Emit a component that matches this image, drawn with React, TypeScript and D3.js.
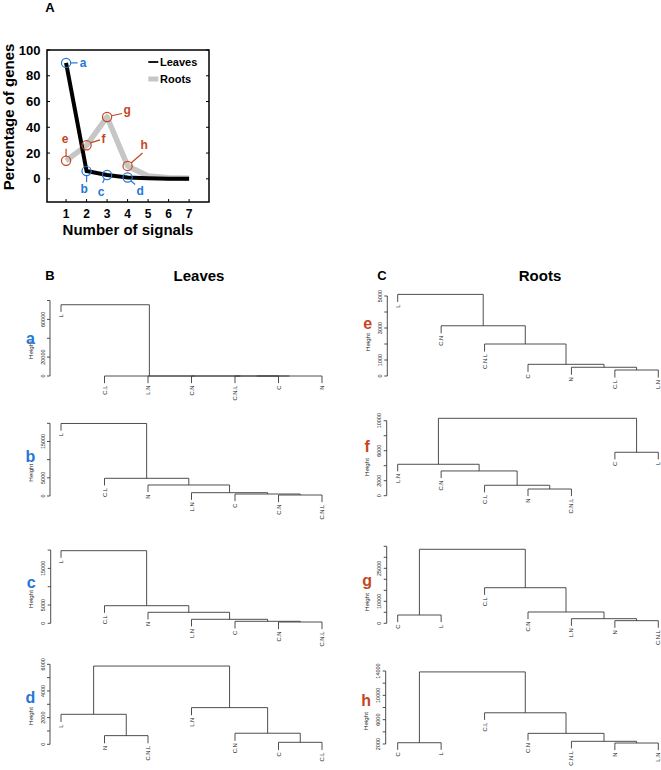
import React from 'react';
import * as d3 from 'd3';

// ---------- Panel A data ----------
const signals = [1, 2, 3, 4, 5, 6, 7];
const leavesPct = [90, 6, 3, 1, 0.4, 0.1, 0];
const rootsPct = [14, 26, 48, 10, 2.2, 0.9, 0.4];
const yTicksA = [0, 20, 40, 60, 80, 100];
const annotLetters = ['a', 'b', 'c', 'd', 'e', 'f', 'g', 'h'];

// ---------- Dendrogram data (leaf order + merges [childA, childB, height]) ----------
type Child = string | number;
type Merge = [Child, Child, number];

const orderA = ['L', 'C.L', 'L.N', 'C.N', 'C.N.L', 'C', 'N'];
const mergesA: Merge[] = [['C.N.L', 'C', 0], [0, 'N', 0], ['C.N', 1, 0], ['L.N', 2, 0], ['C.L', 3, 0], ['L', 4, 75500]];
const ticksA = [0, 20000, 40000, 60000, 80000];
const tickLabA = [0, 20000, 60000];

const orderB = ['L', 'C.L', 'N', 'L.N', 'C', 'C.N', 'C.N.L'];
const mergesB: Merge[] = [['C.N', 'C.N.L', 275], ['C', 0, 550], ['L.N', 1, 910], ['N', 2, 3030], ['C.L', 3, 4870], ['L', 4, 19950]];
const ticksB = [0, 5000, 10000, 15000, 20000];
const tickLabB = [0, 5000, 15000];

const orderC = ['L', 'C.L', 'N', 'L.N', 'C', 'C.N', 'C.N.L'];
const mergesC: Merge[] = [['C.N', 'C.N.L', 355], ['C', 0, 546], ['L.N', 1, 1090], ['N', 2, 3005], ['C.L', 3, 4810], ['L', 4, 19840]];
const ticksC = [0, 5000, 10000, 15000, 20000];
const tickLabC = [0, 5000, 15000];

const orderD = ['L', 'N', 'C.N.L', 'L.N', 'C.N', 'C', 'C.L'];
const mergesD: Merge[] = [['N', 'C.N.L', 650], ['L', 0, 2250], ['C', 'C.L', 150], ['C.N', 2, 830], ['L.N', 3, 2750], [1, 4, 5870]];
const ticksD = [0, 1000, 2000, 3000, 4000, 5000, 6000];
const tickLabD = [0, 2000, 4000, 6000];

const orderE = ['L', 'C.N', 'C.N.L', 'C', 'N', 'C.L', 'L.N'];
const mergesE: Merge[] = [['C.L', 'L.N', 375], ['N', 0, 545], ['C', 1, 730], ['C.N.L', 2, 2000], ['C.N', 3, 3140], ['L', 4, 5100]];
const ticksE = [0, 1000, 2000, 3000, 4000, 5000];
const tickLabE = [0, 1000, 3000, 5000];

const orderF = ['L.N', 'C.N', 'C.L', 'N', 'C.N.L', 'C', 'L'];
const mergesF: Merge[] = [['N', 'C.N.L', 890], ['C.L', 0, 1390], ['C.N', 1, 3300], ['L.N', 2, 4190], ['C', 'L', 5790], [3, 4, 10320]];
const ticksF = [0, 2000, 4000, 6000, 8000, 10000];
const tickLabF = [0, 2000, 6000, 10000];

const orderG = ['C', 'L', 'C.L', 'C.N', 'L.N', 'N', 'C.N.L'];
const mergesG: Merge[] = [['N', 'C.N.L', 1200], ['L.N', 0, 2100], ['C.N', 1, 5140], ['C.L', 2, 16180], ['C', 'L', 3770], [4, 3, 33640]];
const ticksG = [0, 5000, 10000, 15000, 20000, 25000, 30000, 35000];
const tickLabG = [0, 10000, 25000];

const orderH = ['C', 'L', 'C.L', 'C.N', 'C.N.L', 'N', 'L.N'];
const mergesH: Merge[] = [['N', 'L.N', 2160], ['C.N.L', 0, 2440], ['C.N', 1, 3750], ['C.L', 2, 7130], ['C', 'L', 2210], [4, 3, 13850]];
const ticksH = [2000, 4000, 6000, 8000, 10000, 12000, 14000];
const tickLabH = [2000, 6000, 10000, 14000];

const BLUE = '#2477d6';
const RED = '#c4461f';
const FONT = '"Liberation Sans", Arial, Helvetica, sans-serif';

// layout (positions only)
const colX = [[61, 322], [397.7, 658.3]];
const dendros = [
  { letter: 'a', color: BLUE, order: orderA, merges: mergesA, ticks: ticksA, labs: tickLabA, col: 0, axisX: 50, dom: [0, 80000], rng: [376, 300.5], hY: 350, lY: 338 },
  { letter: 'b', color: BLUE, order: orderB, merges: mergesB, ticks: ticksB, labs: tickLabB, col: 0, axisX: 50, dom: [0, 20000], rng: [496, 423.3], hY: 472.7, lY: 456 },
  { letter: 'c', color: BLUE, order: orderC, merges: mergesC, ticks: ticksC, labs: tickLabC, col: 0, axisX: 50.7, dom: [0, 20000], rng: [623.3, 550.1], hY: 599, lY: 582 },
  { letter: 'd', color: BLUE, order: orderD, merges: mergesD, ticks: ticksD, labs: tickLabD, col: 0, axisX: 50, dom: [0, 6000], rng: [744.3, 664.3], hY: 716, lY: 697 },
  { letter: 'e', color: RED, order: orderE, merges: mergesE, ticks: ticksE, labs: tickLabE, col: 1, axisX: 387.3, dom: [0, 5000], rng: [376, 296], hY: 342, lY: 323 },
  { letter: 'f', color: RED, order: orderF, merges: mergesF, ticks: ticksF, labs: tickLabF, col: 1, axisX: 386.7, dom: [0, 10000], rng: [495.7, 420.7], hY: 467, lY: 446 },
  { letter: 'g', color: RED, order: orderG, merges: mergesG, ticks: ticksG, labs: tickLabG, col: 1, axisX: 386.7, dom: [0, 35000], rng: [623.3, 546.3], hY: 602, lY: 580 },
  { letter: 'h', color: RED, order: orderH, merges: mergesH, ticks: ticksH, labs: tickLabH, col: 1, axisX: 385.7, dom: [2000, 14000], rng: [744, 671], hY: 721, lY: 700 },
];

function Dendro({ cfg }: { cfg: any }) {
  const { order, merges, ticks, labs, col, axisX, dom, rng, hY, lY, letter, color } = cfg;
  const x = d3.scalePoint<string>().domain(order).range(colX[col] as [number, number]);
  const y = d3.scaleLinear().domain(dom).range(rng);
  const heights = (merges as Merge[]).map((m) => m[2]);
  const hang = 0.1 * ((d3.max(heights) as number) - (d3.min(heights) as number));
  const nodeX: number[] = [];
  const segs: number[][] = [];
  const leafLabels: { name: string; x: number; y: number }[] = [];
  (merges as Merge[]).forEach(([a, b, h], i) => {
    const pos = (c: Child) => {
      if (typeof c === 'string') {
        const lx = x(c) as number;
        leafLabels.push({ name: c, x: lx, y: y(h - hang) });
        return { x: lx, y: h - hang };
      }
      return { x: nodeX[c], y: heights[c] };
    };
    const A = pos(a);
    const B = pos(b);
    nodeX[i] = (A.x + B.x) / 2;
    segs.push([A.x, y(A.y), A.x, y(h)], [A.x, y(h), B.x, y(h)], [B.x, y(h), B.x, y(B.y)]);
  });
  const hx = axisX - 20;
  return (
    <g fontFamily={FONT}>
      {segs.map((s, i) => (
        <line key={i} x1={s[0]} y1={s[1]} x2={s[2]} y2={s[3]} stroke="#3a3a3a" strokeWidth={0.9} />
      ))}
      {leafLabels.map((l) => (
        <text key={l.name} transform={`translate(${l.x},${l.y + 2.5}) rotate(-90)`} textAnchor="end" dominantBaseline="central" fontSize={5.8} fill="#222">
          {l.name}
        </text>
      ))}
      <line x1={axisX} x2={axisX} y1={y(ticks[0])} y2={y(ticks[ticks.length - 1])} stroke="#3a3a3a" strokeWidth={0.9} />
      {ticks.map((t: number) => (
        <line key={t} x1={axisX - 3} x2={axisX} y1={y(t)} y2={y(t)} stroke="#3a3a3a" strokeWidth={0.9} />
      ))}
      {labs.map((t: number) => (
        <text key={t} transform={`translate(${axisX - 5.5},${y(t)}) rotate(-90)`} textAnchor="middle" fontSize={5.5} fill="#222">
          {t}
        </text>
      ))}
      <text transform={`translate(${hx + 2.5},${hY}) rotate(-90)`} textAnchor="middle" fontSize={6.2} fill="#222">
        Height
      </text>
      <text x={hx + 0.5} y={lY} textAnchor="middle" dominantBaseline="central" fontSize={16} fontWeight="bold" fill={color}>
        {letter}
      </text>
    </g>
  );
}

// annotation geometry (pixel offsets from point): [series, index, x1,y1,x2,y2, lx, ly]
const annots: [number, number, number, number, number, number, number, number][] = [
  [0, 0, 4.5, 0, 11.5, 0, 17, 0],
  [0, 1, 0, 4.5, 0, 11, -2.5, 18],
  [0, 2, -2.5, 3.5, -4.5, 8, -6, 17],
  [0, 3, 3.2, 3.2, 7.5, 7, 12.5, 13.5],
  [1, 0, 0, -4.5, 0, -12, -1, -22],
  [1, 1, 3.8, -2.5, 13.5, -5.5, 17, -6.5],
  [1, 2, 4.4, -1.2, 15, -3.5, 20, -6.5],
  [1, 3, 3.5, -3, 15, -13, 16.5, -20.5],
];

export default function App() {
  const xA = d3.scaleLinear().domain([0.07, 7.97]).range([47, 209]);
  const yA = d3.scaleLinear().domain([-18, 100]).range([202, 50]);
  const lineGen = d3
    .line<number>()
    .x((_, i) => xA(signals[i]))
    .y((d) => yA(d));
  const series = [leavesPct, rootsPct];
  return (
    <svg width={661} height={770} style={{ position: 'absolute', left: 0, top: 0, background: '#fff' }} fontFamily={FONT}>
      <rect width={661} height={770} fill="#fff" />
      {/* Panel A */}
      <text x={50} y={12} fontSize={13} fontWeight="bold" textAnchor="middle">A</text>
      <path d={lineGen(rootsPct) || ''} fill="none" stroke="#c6c6c6" strokeWidth={5.5} strokeLinejoin="round" />
      <path d={lineGen(leavesPct) || ''} fill="none" stroke="#000" strokeWidth={4} strokeLinejoin="miter" />
      <rect x={47} y={50} width={162} height={152} fill="none" stroke="#000" strokeWidth={1.5} />
      {yTicksA.map((t) => (
        <g key={t}>
          <line x1={47} x2={50} y1={yA(t)} y2={yA(t)} stroke="#000" strokeWidth={1} />
          <line x1={206} x2={209} y1={yA(t)} y2={yA(t)} stroke="#000" strokeWidth={1} />
          <text x={40.5} y={yA(t)} textAnchor="end" dominantBaseline="central" fontSize={13} fontWeight="bold">{t}</text>
        </g>
      ))}
      {signals.map((s) => (
        <g key={s}>
          <line x1={xA(s)} x2={xA(s)} y1={202} y2={199} stroke="#000" strokeWidth={1} />
          <text x={xA(s)} y={213.5} textAnchor="middle" dominantBaseline="central" fontSize={12} fontWeight="bold">{s}</text>
        </g>
      ))}
      <text transform="translate(14,117) rotate(-90)" textAnchor="middle" fontSize={15} fontWeight="bold">Percentage of genes</text>
      <text x={128} y={235} textAnchor="middle" fontSize={15} fontWeight="bold">Number of signals</text>
      {/* legend */}
      <line x1={148.3} x2={158.3} y1={62} y2={62} stroke="#000" strokeWidth={1.8} />
      <text x={160} y={62} dominantBaseline="central" fontSize={11} fontWeight="bold">Leaves</text>
      <line x1={148.3} x2={158.3} y1={79} y2={79} stroke="#c6c6c6" strokeWidth={5} />
      <text x={160} y={79} dominantBaseline="central" fontSize={11} fontWeight="bold">Roots</text>
      {/* circles & annotations */}
      {annots.map((a, i) => {
        const [si, idx, x1, y1, x2, y2, lx, ly] = a;
        const px = xA(signals[idx]);
        const py = yA(series[si][idx]);
        const c = si === 0 ? BLUE : RED;
        return (
          <g key={i}>
            <circle cx={px} cy={py} r={4.6} fill="none" stroke={c} strokeWidth={1.2} />
            <line x1={px + x1} y1={py + y1} x2={px + x2} y2={py + y2} stroke={c} strokeWidth={1.2} />
            <text x={px + lx} y={py + ly} textAnchor="middle" dominantBaseline="central" fontSize={12} fontWeight="bold" fill={c}>
              {annotLetters[i]}
            </text>
          </g>
        );
      })}
      {/* Panel headers */}
      <text x={50} y={280} fontSize={13} fontWeight="bold" textAnchor="middle">B</text>
      <text x={199} y={281} fontSize={15} fontWeight="bold" textAnchor="middle">Leaves</text>
      <text x={382} y={280} fontSize={13} fontWeight="bold" textAnchor="middle">C</text>
      <text x={540} y={281} fontSize={15} fontWeight="bold" textAnchor="middle">Roots</text>
      {dendros.map((d) => (
        <Dendro key={d.letter} cfg={d} />
      ))}
    </svg>
  );
}
